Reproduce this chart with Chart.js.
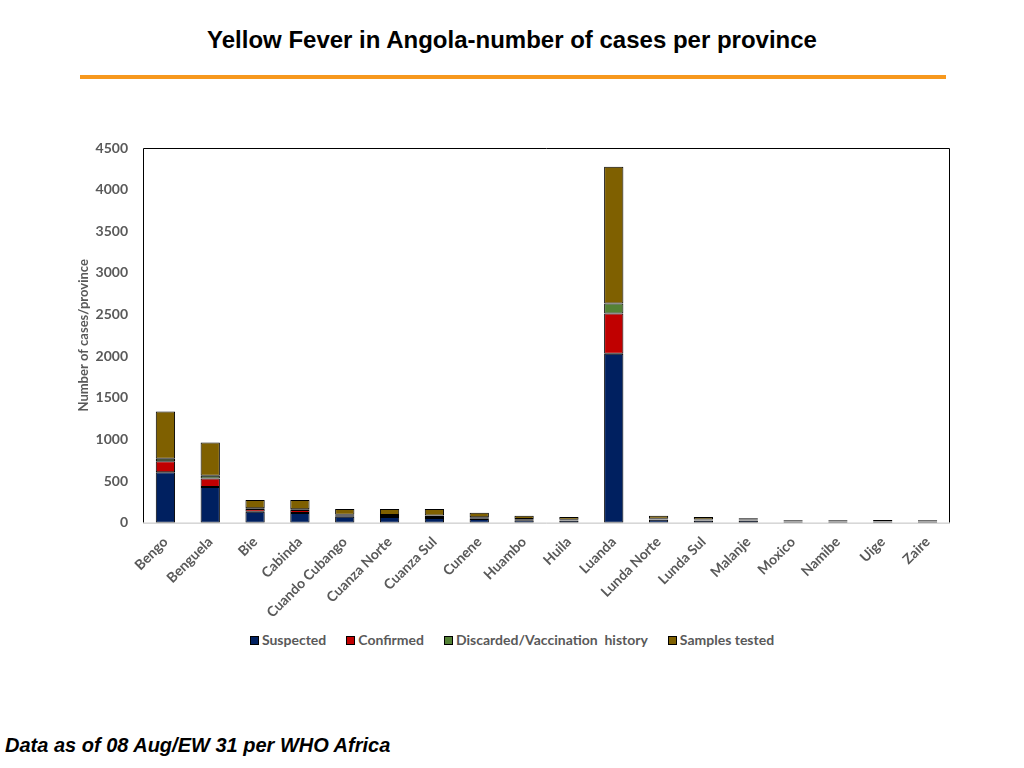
<!DOCTYPE html>
<html>
<head>
<meta charset="utf-8">
<script src="https://cdn.jsdelivr.net/npm/chart.js@4.4.0/dist/chart.umd.min.js"></script>
<style>
  html, body { margin: 0; padding: 0; background: #fff; width: 1024px; height: 768px; overflow: hidden; position: relative; }
  #title { position: absolute; left: 0; width: 1024px; top: 26px; text-align: center; font-family: "Liberation Sans", Arial, sans-serif; font-weight: bold; font-size: 24px; color: #000; }
  #rule { position: absolute; left: 80px; width: 866px; top: 75px; height: 4px; background: #F7981D; }
  #wrap { position: absolute; left: 76px; top: 100px; width: 894px; height: 524px; }
  #legend { position: absolute; left: 0; width: 1024px; top: 631px; text-align: center; font-family: Lato, "Open Sans", sans-serif; font-weight: bold; font-size: 14px; color: #595959; white-space: pre; }
  #legend span.item { display: inline-block; margin: 0 10px; }
  #legend span.box { display: inline-block; width: 7px; height: 7px; border: 1px solid #000; margin-right: 3px; vertical-align: 0px; }
  #footer { position: absolute; left: 5px; top: 734px; font-family: "Liberation Sans", Arial, sans-serif; font-weight: bold; font-style: italic; font-size: 20px; color: #000; }
</style>
</head>
<body>
<div id="title">Yellow Fever in Angola-number of cases per province</div>
<div id="rule"></div>
<div id="wrap"><canvas id="c"></canvas></div>
<div id="legend"></div>
<div id="footer">Data as of 08 Aug/EW 31 per WHO Africa</div>
<script>
const provinces = ["Bengo","Benguela","Bie","Cabinda","Cuando Cubango","Cuanza Norte","Cuanza Sul","Cunene","Huambo","Huila","Luanda","Lunda Norte","Lunda Sul","Malanje","Moxico","Namibe","Uige","Zaire"];
const suspected = [605, 429, 132, 117, 72, 68, 56, 44, 30, 25, 2030, 35, 25, 25, 12, 12, 12, 12];
const confirmed = [132, 100, 33, 36, 10, 12, 25, 10, 6, 5, 481, 5, 5, 5, 3, 3, 3, 3];
const discarded = [29, 33, 8, 8, 13, 13, 4, 10, 8, 6, 120, 8, 8, 7, 4, 4, 4, 4];
const samplesTested = [569, 400, 100, 112, 70, 72, 80, 56, 40, 32, 1643, 36, 30, 15, 11, 11, 12, 11];
const yTicks = [0, 500, 1000, 1500, 2000, 2500, 3000, 3500, 4000, 4500];

const gray = "#595959";
const font = "Lato, 'Open Sans', sans-serif";

const frame = {
  id: "frame",
  afterDatasetsDraw(chart) {
    const a = chart.chartArea, ctx = chart.ctx;
    ctx.save();
    ctx.strokeStyle = "#000";
    ctx.lineWidth = 1;
    ctx.beginPath();
    ctx.moveTo(a.left + 0.5, a.bottom);
    ctx.lineTo(a.left + 0.5, a.top + 0.5);
    ctx.lineTo(a.right - 0.5, a.top + 0.5);
    ctx.lineTo(a.right - 0.5, a.bottom);
    ctx.stroke();
    ctx.strokeStyle = "#BFBFBF";
    ctx.beginPath();
    ctx.moveTo(a.left, a.bottom + 0.5);
    ctx.lineTo(a.right, a.bottom + 0.5);
    ctx.stroke();
    ctx.restore();
  }
};

function ds(label, data, color) {
  return { label, data, backgroundColor: color, borderColor: "#000", borderWidth: 1, borderSkipped: false, barPercentage: 0.43, categoryPercentage: 1.0 };
}

const chart = new Chart(document.getElementById("c"), {
  type: "bar",
  data: {
    labels: provinces,
    datasets: [
      ds("Suspected", suspected, "#002060"),
      ds("Confirmed", confirmed, "#C00000"),
      ds("Discarded/Vaccination  history", discarded, "#548235"),
      ds("Samples tested", samplesTested, "#7F6000")
    ]
  },
  options: {
    responsive: true,
    maintainAspectRatio: false,
    animation: false,
    layout: { padding: { top: 48, left: 0, right: 20, bottom: 0 } },
    plugins: {
      legend: { display: false },
      tooltip: { enabled: false }
    },
    scales: {
      x: {
        stacked: true,
        grid: { display: false },
        border: { display: false },
        ticks: { color: gray, maxRotation: 45, minRotation: 45, autoSkip: false, font: { family: font, size: 14, weight: "bold" } }
      },
      y: {
        stacked: true,
        min: 0,
        max: 4500,
        afterBuildTicks(axis) { axis.ticks = yTicks.map(v => ({ value: v })); },
        afterFit(axis) { axis.width = 67; },
        grid: { display: false },
        border: { display: false },
        ticks: { color: gray, padding: 7, font: { family: font, size: 14, weight: "bold" }, callback: v => String(v) },
        title: { display: true, text: "Number of cases/province", color: gray, padding: { top: 0, bottom: 4 }, font: { family: font, size: 13, weight: "bold" } }
      }
    }
  },
  plugins: [frame]
});

const legendEl = document.getElementById("legend");
chart.data.datasets.forEach(d => {
  const item = document.createElement("span");
  item.className = "item";
  const box = document.createElement("span");
  box.className = "box";
  box.style.background = d.backgroundColor;
  item.appendChild(box);
  item.appendChild(document.createTextNode(d.label));
  legendEl.appendChild(item);
});
</script>
</body>
</html>
